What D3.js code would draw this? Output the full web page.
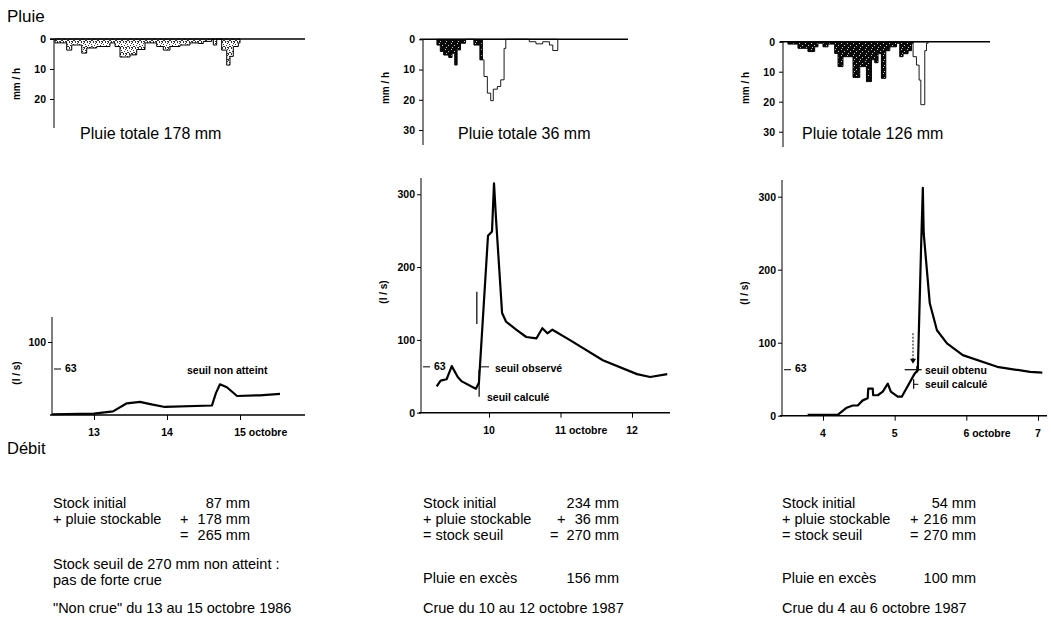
<!DOCTYPE html>
<html><head><meta charset="utf-8">
<script src="https://cdn.jsdelivr.net/npm/d3@7"></script>
<style>
body{margin:0;background:#fff}
svg{display:block}
text{font-family:"Liberation Sans",Arial,Helvetica,sans-serif;fill:#000}
</style>
</head><body>
<svg id="c" width="1051" height="620"></svg>
<script>
// ---------------- DATA ----------------
// Rain (mm/h) as step series: edges in days, one value per interval
const rain1Edges = [12.466,12.626,12.695,12.832,12.900,13.037,13.219,13.288,13.356,13.493,13.585,13.699,13.859,13.949,14.041,14.178,14.315,14.429,14.497,14.612,14.634,14.681,14.749,14.818,14.863,14.908,14.977,15.0];
const rain1Values = [1.3,3.7,2,4.7,3,2.5,1.3,2.5,6,5.3,3.5,1.3,2.5,3.7,2.5,2,1.3,1.5,0.8,0,2,0,3.7,8.7,5.8,2.5,1.3];

const rain2Edges = [9.272,9.319,9.366,9.437,9.483,9.521,9.554,9.601,9.672,9.789,9.873,9.906];
const rain2Values = [1.9,4,5.2,6,4.6,8.5,3.5,1.3,0,1.9,6.8];
const rain2ExcessEdges = [9.906,9.930,9.977,10.024,10.060,10.117,10.164,10.211,10.235,10.563,10.657,10.751,10.845,10.892,10.962];
const rain2ExcessValues = [6.8,12.3,17.8,20.3,16.5,15.6,13.4,3,0,0.8,1.5,0.8,1.9,3.7];

const rain3Edges = [3.511,3.651,3.790,3.884,3.930,4.000,4.070,4.163,4.210,4.279,4.419,4.513,4.606,4.676,4.722,4.768,4.815,4.876,4.932,5.025,5.071,5.117,5.187,5.234,5.257];
const rain3Values = [0.8,2.2,3.3,1.7,0.5,1.7,0.8,3.9,8.3,5,11.9,8.3,13.3,6,7,4,12.2,3,1.7,0.5,5,4,3,0.5];
const rain3ExcessEdges = [5.257,5.304,5.341,5.365,5.420,5.444,5.467];
const rain3ExcessValues = [5,7.8,12.8,21,3,0.5];

// Discharge (l/s): days and values
const flow1Days = [12.425,13.0,13.26,13.45,13.63,13.77,13.97,14.616,14.67,14.726,14.82,14.96,15.27,15.548];
const flow1Values = [1,2,5,16,18,15,11,13,30,42,38,26,27,29];

const flow2Days = [9.268,9.324,9.408,9.479,9.563,9.62,9.775,9.817,9.859,9.986,10.042,10.07,10.099,10.183,10.239,10.38,10.521,10.662,10.746,10.817,10.887,11.127,11.592,12.07,12.254,12.493];
const flow2Values = [36,44,46,64,49,43,35,33,41,243,249,315,265,137,125,114,104,102,116,109,114,100,72,53,49,53];

const flow3Days = [3.786,4.205,4.331,4.415,4.485,4.554,4.624,4.631,4.694,4.70,4.764,4.834,4.904,4.946,5.043,5.099,5.281,5.323,5.37,5.393,5.405,5.45,5.49,5.59,5.73,5.95,6.43,6.89,7.06];
const flow3Values = [1,1,11,14,14,21,24,37,37,28,28,33,44,33,26,26,58,62,235,312,250,199,154,117,99,83,67,60,59];

// Tick values / labels
const rain1Ticks = [0,10,20];
const rain2Ticks = [0,10,20,30];
const rain3Ticks = [0,10,20,30];
const flow1Ticks = [100];
const flow2Ticks = [0,100,200,300];
const flow3Ticks = [0,100,200,300];
const day1Ticks = [13,14,15];
const day1Labels = ["13","14","15 octobre"];
const day2Ticks = [10,11,12];
const day2Labels = ["10","11 octobre","12"];
const day3Ticks = [4,5,6,7];
const day3Labels = ["4","5","6 octobre","7"];
const thresholdFlow = 63;

const rainTotals = ["Pluie totale 178 mm","Pluie totale 36 mm","Pluie totale 126 mm"];

const block1Labels = ["Stock initial","+ pluie stockable",""];
const block1Ops = ["","+","="];
const block1Values = ["87 mm","178 mm","265 mm"];
const block1Notes = ["Stock seuil de 270 mm non atteint :","pas de forte crue"];
const block1Title = "\"Non crue\" du 13 au 15 octobre 1986";

const block2Labels = ["Stock initial","+ pluie stockable","= stock seuil"];
const block2Ops = ["","+","="];
const block2Values = ["234 mm","36 mm","270 mm"];
const block2Excess = ["Pluie en excès","156 mm"];
const block2Title = "Crue du 10 au 12 octobre 1987";

const block3Labels = ["Stock initial","+ pluie stockable","= stock seuil"];
const block3Ops = ["","+","="];
const block3Values = ["54 mm","216 mm","270 mm"];
const block3Excess = ["Pluie en excès","100 mm"];
const block3Title = "Crue du 4 au 6 octobre 1987";

// ---------------- DRAWING ----------------
const svg = d3.select("#c");
const defs = svg.append("defs");
// dark stipple: mostly black with sparse white specks
const pd = defs.append("pattern").attr("id","stipDark").attr("patternUnits","userSpaceOnUse").attr("width",6).attr("height",6);
pd.append("rect").attr("width",6).attr("height",6).attr("fill","#0a0a0a");
[[1,1],[4,3],[2,5]].forEach(([px,py])=>pd.append("rect").attr("x",px).attr("y",py).attr("width",1).attr("height",1).attr("fill","#ccc"));
// light stipple: grey dots scattered irregularly
const pl = defs.append("pattern").attr("id","stipLight").attr("patternUnits","userSpaceOnUse").attr("width",6).attr("height",6);
pl.append("rect").attr("width",6).attr("height",6).attr("fill","#fff");
[[0,0],[3,0],[1,2],[5,1],[4,3],[2,4],[0,5],[5,5],[3,5],[1,4]].forEach(([px,py])=>pl.append("rect").attr("x",px).attr("y",py).attr("width",1).attr("height",1).attr("fill","#333"));

const TICK_FONT = 10.5;
const BLOCK_FONT = 14.5;

svg.append("text").attr("x",7).attr("y",22).attr("font-size",17).text("Pluie");
svg.append("text").attr("x",7).attr("y",454).attr("font-size",16.5).text("Débit");

function stepData(edges, values){ return edges.map((e,i)=>[e, i<values.length ? values[i] : 0]); }

function measure(str, size, weight){
  const t = svg.append("text").attr("font-size",size).attr("font-weight",weight).text(str);
  const w = t.node().getComputedTextLength(); t.remove(); return w;
}

function drawPanel(p){
  const g = svg.append("g");
  const x = d3.scaleLinear().domain(p.xDom).range(p.xRange);
  // ---- Rain ----
  const yr = d3.scaleLinear().domain(p.rainDom).range(p.rainRange);
  const area = d3.area().x(d=>x(d[0])).y0(yr(0)).y1(d=>yr(d[1])).curve(d3.curveStepAfter);
  if (p.excessEdges){
    g.append("path").attr("d",area(stepData(p.excessEdges,p.excessValues)))
      .attr("fill","#fff").attr("stroke","#000").attr("stroke-width",0.9);
  }
  g.append("path").attr("d",area(stepData(p.rainEdges,p.rainValues)))
    .attr("fill",p.pattern).attr("stroke","#000").attr("stroke-width",1);
  g.append("line").attr("x1",p.rainLine[0]).attr("x2",p.rainLine[1]).attr("y1",yr(0)).attr("y2",yr(0))
    .attr("stroke","#000").attr("stroke-width",1.6);
  g.append("line").attr("x1",p.rainAxisX).attr("x2",p.rainAxisX).attr("y1",yr(0)).attr("y2",p.rainBottom)
    .attr("stroke","#000").attr("stroke-width",1);
  const ra = g.append("g").attr("transform",`translate(${p.rainAxisX},0)`)
    .call(d3.axisLeft(yr).tickValues(p.rainTicks).tickSize(4).tickPadding(4).tickSizeOuter(0));
  ra.select(".domain").remove();
  ra.selectAll("text").attr("font-size",TICK_FONT).attr("font-weight","bold").attr("font-family",null);
  g.append("text").attr("transform",`translate(${p.rainLabelX},${p.rainLabelY}) rotate(-90)`)
    .attr("text-anchor","middle").attr("dominant-baseline","middle").attr("font-size",10).attr("font-weight","bold").text("mm / h");
  g.append("text").attr("x",p.totalX).attr("y",139).attr("font-size",16).text(p.total);

  // ---- Flow ----
  const yf = d3.scaleLinear().domain(p.flowDom).range(p.flowRange);
  g.append("line").attr("x1",p.flowAxisX).attr("x2",p.flowAxisX).attr("y1",yf(0)).attr("y2",p.flowTop)
    .attr("stroke","#000").attr("stroke-width",1);
  g.append("line").attr("x1",p.xAxisExt[0]).attr("x2",p.xAxisExt[1]).attr("y1",yf(0)).attr("y2",yf(0))
    .attr("stroke","#000").attr("stroke-width",1.4);
  const fa = g.append("g").attr("transform",`translate(${p.flowAxisX},0)`)
    .call(d3.axisLeft(yf).tickValues(p.flowTicks).tickSize(4).tickPadding(2).tickSizeOuter(0));
  fa.select(".domain").remove();
  fa.selectAll("text").attr("font-size",TICK_FONT).attr("font-weight","bold").attr("font-family",null);
  // threshold 63 tick (inward)
  g.append("line").attr("x1",p.flowAxisX+2).attr("x2",p.flowAxisX+9).attr("y1",yf(thresholdFlow)).attr("y2",yf(thresholdFlow))
    .attr("stroke","#000").attr("stroke-width",1);
  g.append("text").attr("x",p.flowAxisX+13).attr("y",yf(thresholdFlow)).attr("dominant-baseline","middle")
    .attr("font-size",TICK_FONT).attr("font-weight","bold").text(String(thresholdFlow));
  // x ticks
  const xa = g.append("g").attr("transform",`translate(0,${yf(0)})`)
    .call(d3.axisBottom(x).tickValues(p.dayTicks).tickSize(5).tickFormat(()=>""));
  xa.select(".domain").remove();
  p.dayTicks.forEach((d,i)=>{
    const lab = p.dayLabels[i];
    const num = lab.split(" ")[0];
    const w = measure(num, TICK_FONT, "bold");
    g.append("text").attr("x",x(d)-w/2).attr("y",yf(0)+21).attr("font-size",TICK_FONT).attr("font-weight","bold").text(lab);
  });
  g.append("text").attr("transform",`translate(${p.flowLabelX},${p.flowLabelY}) rotate(-90)`)
    .attr("text-anchor","middle").attr("dominant-baseline","middle").attr("font-size",10).attr("font-weight","bold").text("(l / s)");
  // hydrograph
  const line = d3.line().x((d,i)=>x(p.flowDays[i])).y(d=>yf(d));
  g.append("path").attr("d",line(p.flowValues)).attr("fill","none").attr("stroke","#000")
    .attr("stroke-width",2.2).attr("stroke-linejoin","round");
  p.annot(g,x,yf);

  // ---- Text block ----
  const b = p.block;
  const rows = [508,524,540];
  b.labels.forEach((l,i)=>{
    g.append("text").attr("x",b.x).attr("y",rows[i]).attr("font-size",BLOCK_FONT).text(l);
    if (b.ops[i]) g.append("text").attr("x",b.opX[i]).attr("y",rows[i]).attr("font-size",BLOCK_FONT).text(b.ops[i]);
    g.append("text").attr("x",b.valRight).attr("y",rows[i]).attr("text-anchor","end").attr("font-size",BLOCK_FONT).text(b.values[i]);
  });
  if (b.notes){
    g.append("text").attr("x",b.x).attr("y",569).attr("font-size",BLOCK_FONT).text(b.notes[0]);
    g.append("text").attr("x",b.x).attr("y",585).attr("font-size",BLOCK_FONT).text(b.notes[1]);
  }
  if (b.excess){
    g.append("text").attr("x",b.x).attr("y",583).attr("font-size",BLOCK_FONT).text(b.excess[0]);
    g.append("text").attr("x",b.valRight).attr("y",583).attr("text-anchor","end").attr("font-size",BLOCK_FONT).text(b.excess[1]);
  }
  g.append("text").attr("x",b.x).attr("y",613).attr("font-size",BLOCK_FONT).text(b.title);
}

function txt(g,x,y,s){ g.append("text").attr("x",x).attr("y",y).attr("font-size",10.5).attr("font-weight","bold").text(s); }
function ln(g,x1,y1,x2,y2,w,dash){ const l=g.append("line").attr("x1",x1).attr("y1",y1).attr("x2",x2).attr("y2",y2).attr("stroke","#000").attr("stroke-width",w||1); if(dash) l.attr("stroke-dasharray",dash); }

drawPanel({
  xDom:[13,15], xRange:[94,240],
  rainDom:[0,20], rainRange:[39,99], rainTicks:rain1Ticks, rainAxisX:54, rainBottom:128, rainLine:[50,305],
  rainEdges:rain1Edges, rainValues:rain1Values, pattern:"url(#stipLight)",
  rainLabelX:17, rainLabelY:84, totalX:80, total:rainTotals[0],
  flowDom:[0,100], flowRange:[415,342], flowTicks:flow1Ticks, flowAxisX:52, flowTop:317, xAxisExt:[50,305],
  flowDays:flow1Days, flowValues:flow1Values, dayTicks:day1Ticks, dayLabels:day1Labels,
  flowLabelX:17, flowLabelY:373,
  annot:(g,x,y)=>{ txt(g,187,374,"seuil non atteint"); },
  block:{x:53, labels:block1Labels, ops:block1Ops, opX:[0,180,180], values:block1Values, valRight:250, notes:block1Notes, title:block1Title}
});

drawPanel({
  xDom:[10,12], xRange:[489,632],
  rainDom:[0,30], rainRange:[39.3,130], rainTicks:rain2Ticks, rainAxisX:423, rainBottom:145, rainLine:[420,628],
  rainEdges:rain2Edges, rainValues:rain2Values, excessEdges:rain2ExcessEdges, excessValues:rain2ExcessValues, pattern:"url(#stipDark)",
  rainLabelX:386, rainLabelY:88, totalX:458, total:rainTotals[1],
  flowDom:[0,300], flowRange:[412.7,194.3], flowTicks:flow2Ticks, flowAxisX:421, flowTop:178, xAxisExt:[419,670],
  flowDays:flow2Days, flowValues:flow2Values, dayTicks:day2Ticks, dayLabels:day2Labels,
  flowLabelX:384, flowLabelY:292,
  annot:(g,x,y)=>{
    ln(g,x(9.83),y(166),x(9.83),y(122),1.2);
    ln(g,x(9.873),y(63),x(10.0),y(63),1);
    txt(g,495,372,"seuil observé");
    ln(g,x(9.862),y(59),x(9.862),y(22),1.2);
    txt(g,487,401,"seuil calculé");
  },
  block:{x:423, labels:block2Labels, ops:block2Ops, opX:[0,557,550], values:block2Values, valRight:619, excess:block2Excess, title:block2Title}
});

drawPanel({
  xDom:[4,7], xRange:[823,1038],
  rainDom:[0,30], rainRange:[41.7,131.7], rainTicks:rain3Ticks, rainAxisX:783, rainBottom:147, rainLine:[780,990],
  rainEdges:rain3Edges, rainValues:rain3Values, excessEdges:rain3ExcessEdges, excessValues:rain3ExcessValues, pattern:"url(#stipDark)",
  rainLabelX:746, rainLabelY:88, totalX:802, total:rainTotals[2],
  flowDom:[0,300], flowRange:[415.7,196.7], flowTicks:flow3Ticks, flowAxisX:782, flowTop:180, xAxisExt:[780,1047],
  flowDays:flow3Days, flowValues:flow3Values, dayTicks:day3Ticks, dayLabels:day3Labels,
  flowLabelX:745, flowLabelY:293,
  annot:(g,x,y)=>{
    ln(g,x(5.256),y(113),x(5.256),y(76),1,"2,1.5");
    g.append("path").attr("d",`M${x(5.256)-3},${y(78)} L${x(5.256)+3},${y(78)} L${x(5.256)},${y(71)} Z`).attr("fill","#000");
    ln(g,x(5.14),y(63),x(5.377),y(63),1.2);
    ln(g,x(5.31),y(68),x(5.31),y(59),1.2);
    txt(g,925,374,"seuil obtenu");
    ln(g,x(5.265),y(50),x(5.265),y(37),1.2);
    ln(g,x(5.265),y(43),x(5.33),y(43),1);
    txt(g,925,388,"seuil calculé");
  },
  block:{x:782, labels:block3Labels, ops:block3Ops, opX:[0,910,910], values:block3Values, valRight:976, excess:block3Excess, title:block3Title}
});
</script>
</body></html>
